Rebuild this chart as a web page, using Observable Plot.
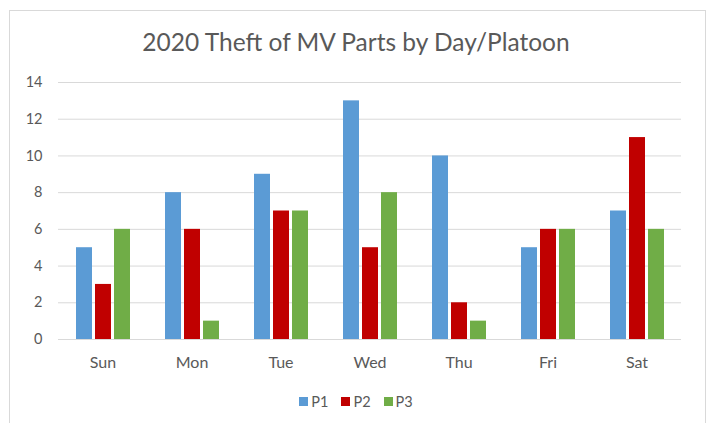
<!DOCTYPE html>
<html>
<head>
<meta charset="utf-8">
<script src="https://cdn.jsdelivr.net/npm/d3@7"></script>
<script src="https://cdn.jsdelivr.net/npm/@observablehq/plot@0.6"></script>
<style>
  html, body { margin: 0; padding: 0; background: #fff; }
  body { width: 712px; height: 423px; position: relative; overflow: hidden; font-family: Lato, "Open Sans", sans-serif; }
  #frame { position: absolute; left: 9px; top: 10px; width: 697px; height: 430px; border: 1px solid #d9d9d9; box-sizing: border-box; }
  #title { position: absolute; left: 0; width: 712px; top: 27px; text-align: center; font-size: 24.5px; line-height: 30px; color: #595959; }
  #chart { position: absolute; left: 0; top: 70px; }
  #legend { position: absolute; left: 0; width: 712px; top: 391px; height: 20px; display: flex; align-items: center; justify-content: center; gap: 13px; font-size: 14.5px; color: #595959; }
  #legend span.item { display: inline-flex; align-items: center; gap: 3px; }
  #legend span.sw { width: 9px; height: 9px; display: inline-block; }
</style>
</head>
<body>
<div id="frame"></div>
<div id="title">2020 Theft of MV Parts by Day/Platoon</div>
<div id="chart"></div>
<div id="legend"></div>
<script>
const days = ["Sun", "Mon", "Tue", "Wed", "Thu", "Fri", "Sat"];
const platoons = ["P1", "P2", "P3"];
const colors = ["#5B9BD5", "#C00000", "#70AD47"];
const p1 = [5, 8, 9, 13, 10, 5, 7];
const p2 = [3, 6, 7, 5, 2, 6, 11];
const p3 = [6, 1, 7, 8, 1, 6, 6];
const yTicks = [0, 2, 4, 6, 8, 10, 12, 14];

const series = [p1, p2, p3];
const data = [];
days.forEach((d, i) => platoons.forEach((p, j) => data.push({day: d, platoon: p, value: series[j][i]})));

const plot = Plot.plot({
  width: 712,
  height: 309,
  marginLeft: 55,
  marginRight: 28,
  marginTop: 12,
  marginBottom: 40,
  style: {fontFamily: "Lato, 'Open Sans', sans-serif", fontSize: "14.5px", color: "#595959", background: "transparent"},
  fx: {domain: days, padding: 0, label: null, tickSize: 0, tickPadding: 17},
  x: {domain: platoons, axis: null, paddingInner: 0.17, paddingOuter: 0.866},
  y: {domain: [0, 14], ticks: yTicks, label: null, tickSize: 0, tickPadding: 16},
  color: {domain: platoons, range: colors},
  marks: [
    Plot.ruleY(yTicks, {stroke: "#d9d9d9", strokeWidth: 1}),
    Plot.barY(data, {fx: "day", x: "platoon", y: "value", fill: "platoon"})
  ]
});
plot.querySelectorAll('g[aria-label="fx-axis tick label"] text').forEach(t => t.style.fontSize = "16px");
document.getElementById("chart").appendChild(plot);

const legend = document.getElementById("legend");
platoons.forEach((p, j) => {
  const item = document.createElement("span");
  item.className = "item";
  const sw = document.createElement("span");
  sw.className = "sw";
  sw.style.background = colors[j];
  item.appendChild(sw);
  item.appendChild(document.createTextNode(p));
  legend.appendChild(item);
});
</script>
</body>
</html>
